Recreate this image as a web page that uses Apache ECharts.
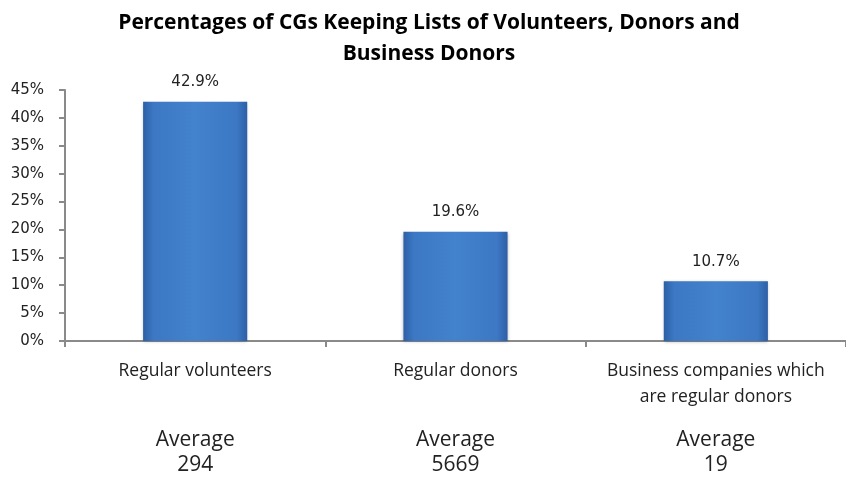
<!DOCTYPE html>
<html>
<head>
<meta charset="utf-8">
<script src="https://cdn.jsdelivr.net/npm/echarts@6/dist/echarts.min.js"></script>
<style>html,body{margin:0;padding:0;background:#fff}#c{width:846px;height:483px}</style>
</head>
<body>
<div id="c"></div>
<script>
var titleText = 'Percentages of CGs Keeping Lists of Volunteers, Donors and\nBusiness Donors';
var categories = ['Regular volunteers', 'Regular donors', 'Business companies which\nare regular donors'];
var percentages = [42.9, 19.6, 10.7];
var averages = ['294', '5669', '19'];
var yTicks = [0, 5, 10, 15, 20, 25, 30, 35, 40, 45];

var chart = echarts.init(document.getElementById('c'), null, {renderer: 'canvas'});
var barColor = new echarts.graphic.LinearGradient(0, 0, 1, 0, [
  {offset: 0, color: '#2d5fa6'},
  {offset: 0.1, color: '#3c78c4'},
  {offset: 0.5, color: '#4382cd'},
  {offset: 0.9, color: '#3c78c4'},
  {offset: 1, color: '#2d5fa6'}
]);
chart.setOption({
  animation: false,
  backgroundColor: '#ffffff',
  title: {
    text: titleText,
    left: 424,
    top: 3,
    textAlign: 'center',
    textStyle: {fontFamily: 'Open Sans', fontWeight: 'bold', fontSize: 21, lineHeight: 31, color: '#000'}
  },
  grid: {left: 65, top: 90, width: 790, height: 251, containLabel: false},
  xAxis: [{
    type: 'category',
    data: categories,
    position: 'bottom',
    axisLine: {lineStyle: {color: '#8a8a8a', width: 2}},
    axisTick: {show: true, length: 6, lineStyle: {color: '#8a8a8a', width: 2}},
    axisLabel: {margin: 17, fontFamily: 'Open Sans', fontSize: 17.5, lineHeight: 26, color: '#222', interval: 0}
  }, {
    type: 'category',
    data: averages.map(function (a) { return 'Average\n' + a; }),
    position: 'bottom',
    axisLine: {show: false},
    axisTick: {show: false},
    axisLabel: {margin: 87, fontFamily: 'Open Sans', fontSize: 21, lineHeight: 25, color: '#222', interval: 0}
  }],
  yAxis: {
    type: 'value',
    min: 0, max: 45, interval: 5,
    splitLine: {show: false},
    axisLine: {show: true, lineStyle: {color: '#8a8a8a', width: 2}},
    axisTick: {show: true, length: 6, lineStyle: {color: '#8a8a8a', width: 2}},
    axisLabel: {fontFamily: 'DejaVu Sans', fontSize: 15, color: '#222', margin: 21,
      formatter: function (v) { return yTicks.indexOf(v) >= 0 ? v + '%' : ''; }}
  },
  series: [{
    type: 'bar',
    data: percentages,
    barWidth: '40%',
    itemStyle: {color: barColor, shadowColor: 'rgba(0,0,0,0.25)', shadowBlur: 3, shadowOffsetY: 1},
    label: {show: true, position: 'top', distance: 12, formatter: function (p) { return p.value.toFixed(1) + '%'; },
      fontFamily: 'DejaVu Sans', fontSize: 15, color: '#222'}
  }]
});
</script>
</body>
</html>
